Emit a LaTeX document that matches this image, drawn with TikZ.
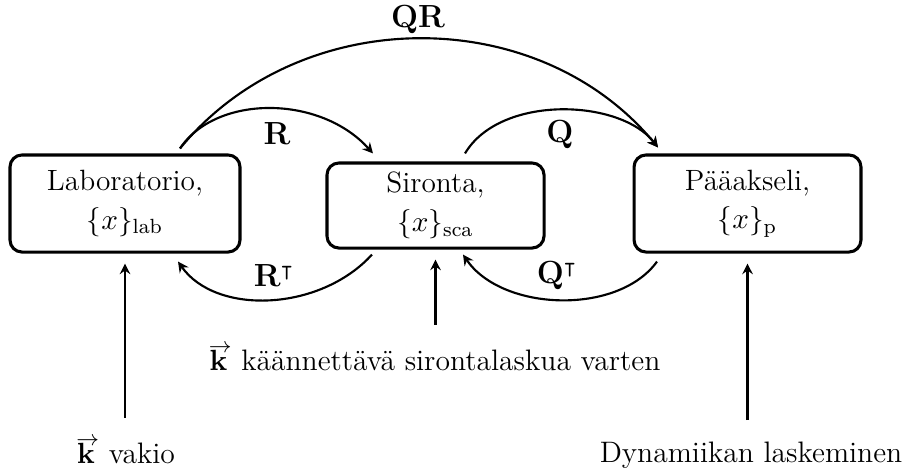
\documentclass[tikz,border=0pt]{standalone}
\usepackage{amsmath,amssymb}
\usetikzlibrary{arrows.meta,calc}
\newcommand{\kvec}{$\mathbf{k}$\llap{\raisebox{6.6pt}{$\scriptstyle\rightarrow$}\kern-1.6pt}\kern1.6pt}
\begin{document}
\begin{tikzpicture}[x=0.375pt,y=-0.375pt,
  frame/.style={draw,line width=1.15pt,rounded corners=4.5pt,align=center,inner sep=0pt,
    font=\fontsize{11}{14.6}\selectfont},
  arr/.style={line width=0.8pt,-{Stealth[length=4pt,width=4pt,inset=1.4pt]}},
  lbl/.style={font=\large},
  bot/.style={font=\fontsize{11.1}{12}\selectfont,anchor=base}]
\useasboundingbox (0,0) rectangle (909,472);
\node[frame,minimum width=86.25pt,minimum height=36.4pt] (lab) at (125,203.5) {Laboratorio,\\ $\{x\}_{\text{lab}}$};
\node[frame,minimum width=81.4pt,minimum height=31.9pt] (sca) at (435.5,205.5) {Sironta,\\ $\{x\}_{\text{sca}}$};
\node[frame,minimum width=85.1pt,minimum height=36.4pt] (p) at (747.5,203.5) {Pääakseli,\\ $\{x\}_{\text{p}}$};

\node[lbl] (lR) at (277,134) {$\mathbf{R}$};
\node[lbl] (lQR) at (418,20) {$\mathbf{QR}$};
\node[lbl] (lQ) at (560,135) {$\mathbf{Q}$};
\node[lbl] (lRT) at (274,276) {$\mathbf{R}^{\intercal}$};
\node[lbl] (lQT) at (557,276) {$\mathbf{Q}^{\intercal}$};

\draw[arr] ($(lab.north)+(55,-5)$) .. controls +(36,-54) and +(-53,-59) .. ($(sca.north)+(-62.5,-8)$);
\draw[arr] ($(lab.north)+(55,-5)$) .. controls +(120,-146) and +(-120,-145) .. ($(p.north)+(-89.5,-6)$);
\draw[arr] ($(sca.north)+(29.5,-8)$) .. controls +(35,-59) and +(-38,-49) .. ($(p.north)+(-89.5,-6)$);
\draw[arr] ($(sca.south)+(-63.5,5)$) .. controls +(-52,57) and +(38,54) .. ($(lab.south)+(53,8)$);
\draw[arr] ($(p.south)+(-90.5,8)$) .. controls +(-39,54) and +(39,57) .. ($(sca.south)+(27.5,5)$);

\node[bot] (kv) at (126,463) {\kvec{} vakio};
\node[bot] (kk) at (435,370) {\kvec{} käännettävä sirontalaskua varten};
\node[bot] (dyn) at (751,462) {Dynamiikan laskeminen};

\draw[arr] (kv.north -| lab.south) ++(0,-10) -- ($(lab.south)+(0,10)$);
\draw[arr] (kk.north -| sca.south) ++(0,-10) -- ($(sca.south)+(0,10)$);
\draw[arr] (dyn.north -| p.south) ++(0,-12) -- ($(p.south)+(0,10)$);
\end{tikzpicture}
\end{document}
